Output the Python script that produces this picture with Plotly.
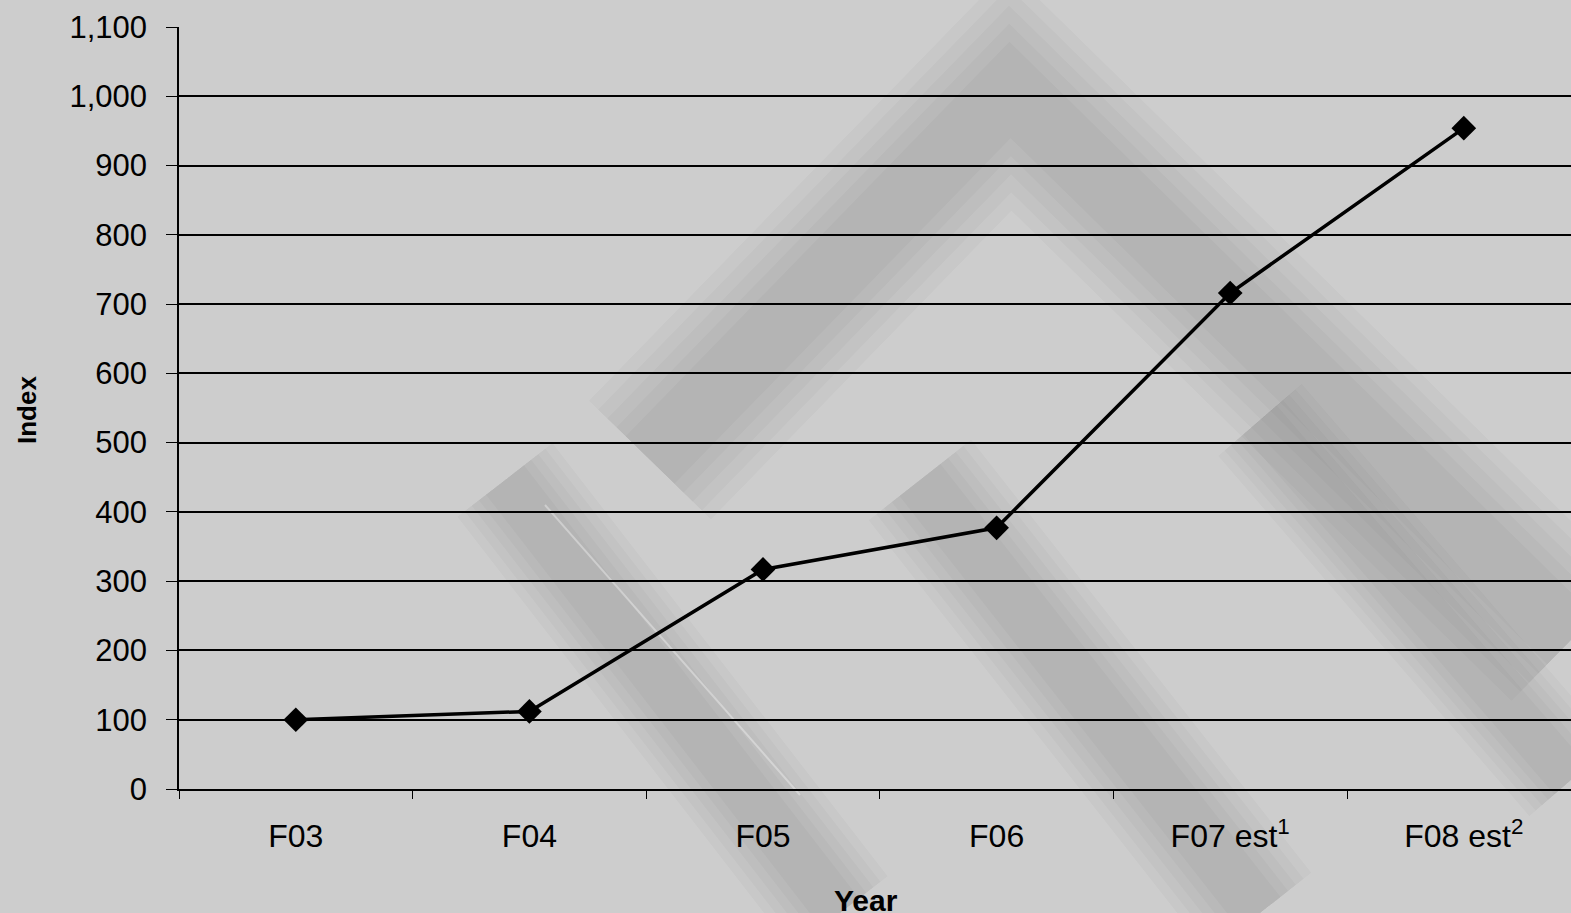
import plotly.graph_objects as go

# ---- data ----
categories = ["F03", "F04", "F05", "F06", "F07 est", "F08 est"]
tick_labels = ["F03", "F04", "F05", "F06", "F07 est<sup>1</sup>", "F08 est<sup>2</sup>"]
index_values = [100, 112, 317, 377, 716, 954]
y_ticks = [0, 100, 200, 300, 400, 500, 600, 700, 800, 900, 1000, 1100]

FONT = "Arial, 'Liberation Sans', sans-serif"
W, H = 1571, 913
L, T, R, B = 179, 27, 0, 124
PW, PH = W - L - R, H - T - B


def px(X):
    return (X - L) / PW


def py(Y):
    return (H - B - Y) / PH


fig = go.Figure()
fig.add_trace(go.Scatter(
    x=categories, y=index_values, mode="lines+markers",
    line=dict(color="black", width=3.5),
    marker=dict(symbol="diamond", size=19, color="black"),
    showlegend=False, cliponaxis=False,
))

# faint, soft-edged watermark bands (decoration only)
bands = [
    ([(505, 480), (840, 913)], 120),
    ([(650, 460), (1010, 90), (1571, 640)], 170),
    ([(920, 480), (1260, 913)], 130),
    ([(1260, 420), (1571, 780)], 110),
]
shapes = []
for pts, w in bands:
    path = "M " + " L ".join(f"{px(x):.4f},{py(y):.4f}" for x, y in pts)
    for frac in (1.0, 0.85, 0.7, 0.55, 0.4):
        shapes.append(dict(type="path", xref="paper", yref="paper", path=path,
                           line=dict(color="rgba(40,40,40,0.028)", width=w * frac),
                           layer="below"))
# thin light streak inside the lower-left band
shapes.append(dict(type="line", xref="paper", yref="paper",
                   x0=px(545), y0=py(505), x1=px(800), y1=py(795),
                   line=dict(color="rgba(255,255,255,0.35)", width=2), layer="below"))

fig.update_layout(
    width=W, height=H,
    margin=dict(l=L, r=R, t=T, b=B, autoexpand=False),
    paper_bgcolor="#cdcdcd", plot_bgcolor="#cdcdcd",
    font=dict(family=FONT, size=31, color="black"),
    shapes=shapes,
    annotations=[
        dict(text="<b>Index</b>", xref="paper", yref="paper",
             x=px(27), y=py(410), textangle=-90, showarrow=False,
             font=dict(size=26, family=FONT), xanchor="center", yanchor="middle"),
        dict(text="<b>Year</b>", xref="paper", yref="paper",
             x=px(866), y=py(882), showarrow=False,
             font=dict(size=30, family=FONT), xanchor="center", yanchor="top"),
    ],
)

fig.update_xaxes(
    type="category", range=[-0.5, 5.5 - 9.6 / 233.6],
    tickmode="array", tickvals=categories, ticktext=tick_labels,
    tickson="boundaries", ticks="outside", ticklen=8, tickcolor="black",
    showline=True, linecolor="black", linewidth=1.5,
    showgrid=False, zeroline=False,
    tickfont=dict(size=32, family=FONT), ticklabelstandoff=18,
)
fig.update_yaxes(
    range=[0, 1100], tickmode="array", tickvals=y_ticks,
    ticktext=[f"{v:,}" for v in y_ticks],
    ticks="outside", ticklen=11, tickcolor="black",
    showline=True, linecolor="black", linewidth=1.5,
    showgrid=True, gridcolor="black", gridwidth=1.5,
    zeroline=False,
    tickfont=dict(size=31, family=FONT), ticklabelstandoff=13,
)

fig.write_html("out.html", config={"displayModeBar": False},
               post_script="document.body.style.margin='0';")
